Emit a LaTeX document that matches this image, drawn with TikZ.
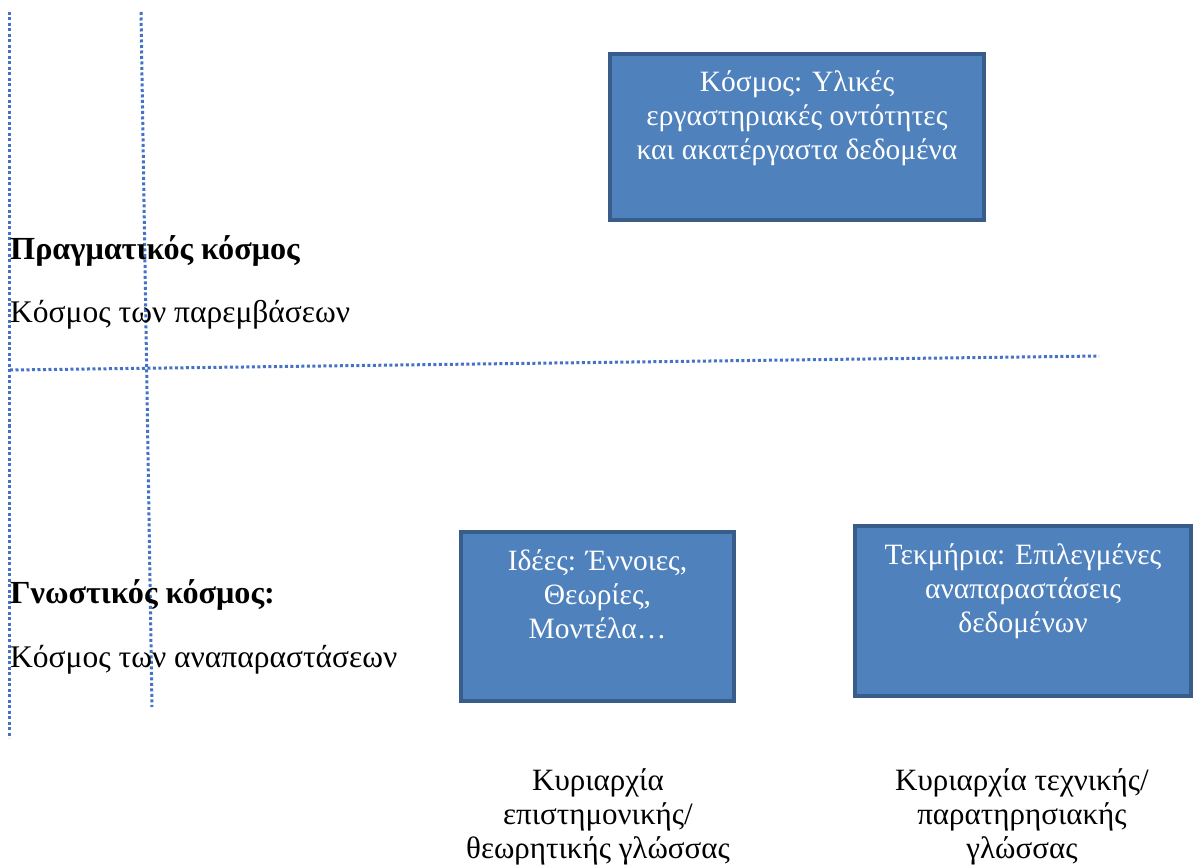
\documentclass[tikz,border=0pt]{standalone}
\usepackage{fontspec}
\setmainfont{Liberation Serif}
\usetikzlibrary{positioning}
\usepackage{xcolor}
\definecolor{worldBlue}{HTML}{4F81BD}
\definecolor{worldEdge}{HTML}{385D8A}
\definecolor{gridDot}{HTML}{4472C4}
\newcommand{\toptext}[3]{\parbox[c][#2][t]{#1}{\centering\rule{0pt}{38pt}#3}}

\begin{document}
\begin{tikzpicture}[x=1pt,y=-1pt]
\tikzstyle{world}=[draw=worldEdge,fill=worldBlue,line width=4pt,inner sep=0pt,text=white,font=\fontsize{29.5}{34}\selectfont]
\tikzstyle{side}=[anchor=base west,inner sep=0pt,font=\fontsize{31.5}{36}\selectfont]
\tikzstyle{lang}=[align=center,inner sep=0pt,font=\fontsize{31}{34}\selectfont]
\tikzstyle{border}=[draw=gridDot,line width=3pt,dash pattern=on 3pt off 2.5pt]
\useasboundingbox (0,0) rectangle (1194,866);
\draw[border] (9.5,12) -- (9.5,738);
\draw[border] (141,12) -- (152,707);
\draw[border] (10,370) -- (1099,356);
\node[world,minimum width=374pt,minimum height=166pt] (cosmos) at (797,137) {\toptext{370pt}{166pt}{Κόσμος: Υλικές\\εργαστηριακές οντότητες\\και ακατέργαστα δεδομένα}};
\node[world,minimum width=273pt,minimum height=169pt] (ideas) at (597.5,616.5) {\toptext{269pt}{169pt}{Ιδέες: Έννοιες,\\Θεωρίες,\\Μοντέλα…}};
\node[world,minimum width=336pt,minimum height=170pt] (evidence) at (1023,611) {\toptext{332pt}{170pt}{Τεκμήρια: Επιλεγμένες\\αναπαραστάσεις\\δεδομένων}};
\node[side,font=\fontsize{32.2}{36}\selectfont\bfseries] (real) at (10,260) {Πραγματικός κόσμος};
\node[side] (realsub) at (10,323) {Κόσμος των παρεμβάσεων};
\node[side,font=\fontsize{32.2}{36}\selectfont\bfseries] (mind) at (10,603) {Γνωστικός κόσμος:};
\node[side] (mindsub) at (10,667) {Κόσμος των αναπαραστάσεων};
\node[lang] (theory) at (598,817) {Κυριαρχία\\επιστημονικής/\\θεωρητικής γλώσσας};
\node[lang] (practice) at (1022,817) {Κυριαρχία τεχνικής/\\παρατηρησιακής\\γλώσσας};
\end{tikzpicture}
\end{document}
